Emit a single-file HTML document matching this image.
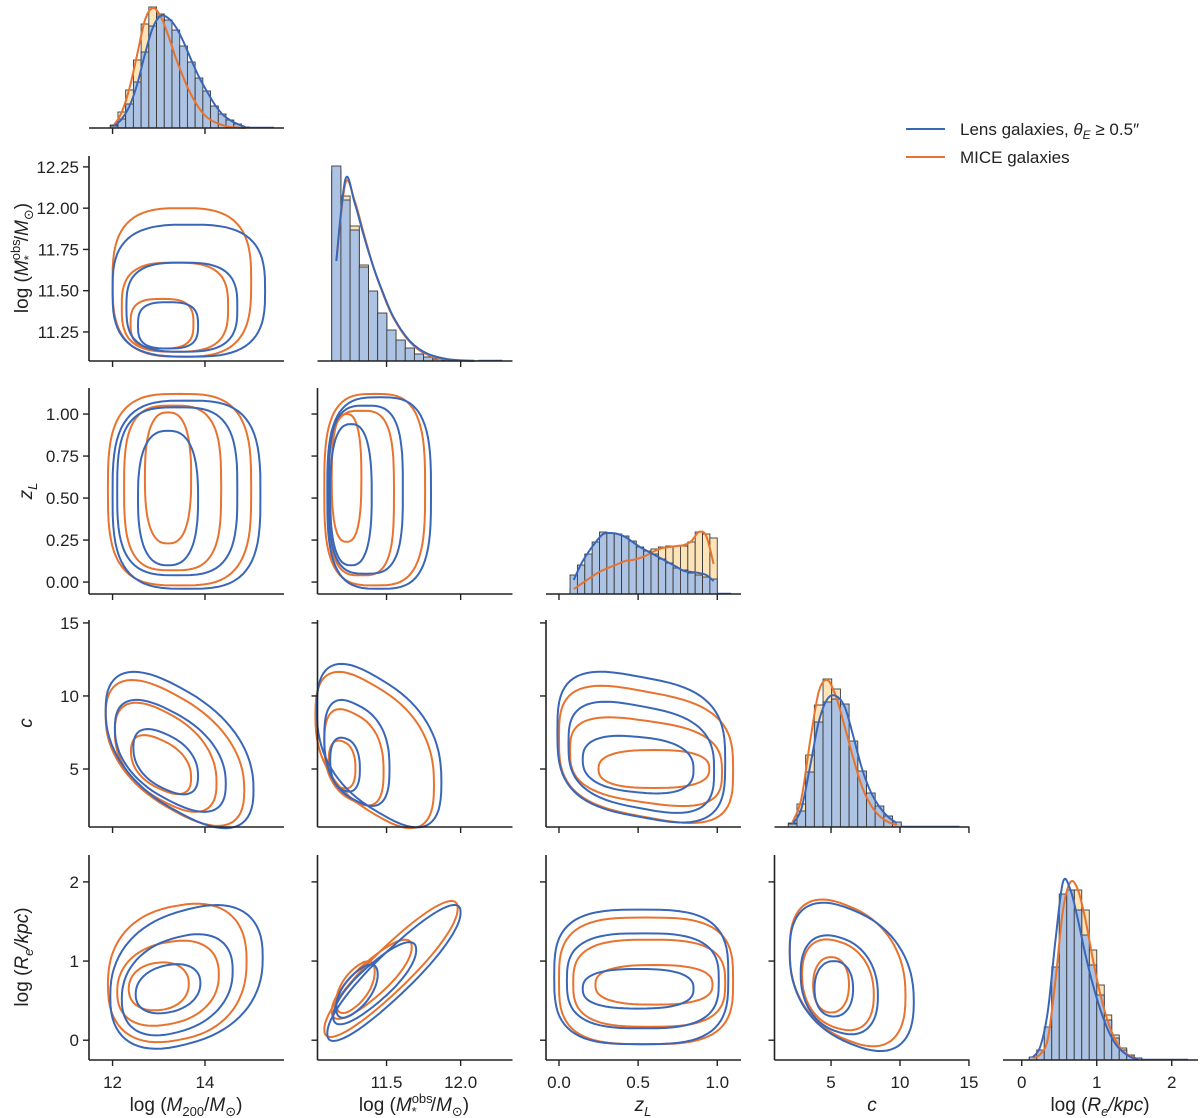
<!DOCTYPE html>
<html><head><meta charset="utf-8">
<style>
html,body{margin:0;padding:0;background:#fff;}
svg{display:block;font-family:"Liberation Sans","DejaVu Sans",sans-serif;}
</style></head>
<body>
<svg id="chart" width="1200" height="1118" viewBox="0 0 1200 1118" xmlns="http://www.w3.org/2000/svg"></svg>
<script>
// ---------- data ----------
const varNames = ["log_M200","log_Mstar","zL","c","log_Re"];
const xDomains = [[11.49,15.71],[11.034,12.35],[-0.082,1.15],[0.9,15.04],[-0.25,2.35]];
const yDomains = [[0,121],[11.074,12.316],[-0.071,1.155],[1.03,15.2],[-0.25,2.34]];
const xTicks = [[12,14],[11.5,12.0],[0,0.5,1.0],[5,10,15],[0,1,2]];
const xTickLabels = [["12","14"],["11.5","12.0"],["0.0","0.5","1.0"],["5","10","15"],["0","1","2"]];
const yTicks = [[],[11.25,11.5,11.75,12.0,12.25],[0,0.25,0.5,0.75,1.0],[5,10,15],[0,1,2]];
const yTickLabels = [[],["11.25","11.50","11.75","12.00","12.25"],["0.00","0.25","0.50","0.75","1.00"],["5","10","15"],["0","1","2"]];

// histograms (counts scaled); bin start and width per variable
const histStart = [11.95, 11.13, 0.07, 1.9, 0.1];
const histWidth = [0.167, 0.062, 0.0465, 0.63, 0.1];
const histLens = [
 [2,9,24,46,76,102,112,108,98,82,66,50,37,22,14,8,4,1],
 [195,161,131,94,70,48,31,21,13,7,4,2,1,0.5,0.3,0.2],
 [19,29,40,52,62,61,60,58,53,47,43,40,35,31,26,24,21,19,17,15],
 [3,16,55,105,125,128,123,86,56,34,21,11,5],
 [3,10,33,93,166,170,150,125,95,65,40,22,10,5,2]
];
const histMice = [
 [3,16,38,68,104,121,114,94,72,52,34,21,12,7,4,2,1,0],
 [190,165,135,96,68,46,30,20,12,7,4,2,1,0.5,0.2,0.1],
 [5,9,14,18,22,26,30,33,35,36,40,45,47,48,48,48,52,62,60,56],
 [4,23,72,122,148,138,110,75,45,27,15,7,3],
 [2,6,20,70,140,165,170,150,110,75,45,25,12,5,2]
];
// KDE curves (values at bin centres)
const kdeLens = [
 [2,9,22,44,74,100,112,110,101,86,68,51,37,24,14,8,4,1],
 [100,182,158,125,95,70,48,32,20,12,7,4,2,1,0.5,0.2],
 [14,30,42,52,60,61,60,57,52,47,43,39,35,31,27,23,22,21,19,13],
 [3,18,60,105,128,131,120,90,58,35,20,10,4],
 [3,14,50,120,178,170,140,105,75,50,30,16,8,3,1]
];
const kdeMice = [
 [3,16,40,74,108,120,112,93,70,50,33,20,11,6,3,1,0.5,0],
 [100,178,160,127,95,69,47,31,19,11,6,3,1.5,0.7,0.3,0.1],
 [5,10,15,20,24,27,30,33,34,36,39,43,46,47,48,49,53,62,58,30],
 [5,28,85,135,147,130,100,68,40,22,11,5,2],
 [2,6,22,80,150,178,170,140,100,65,38,20,9,4,1]
];

// contours per panel "row-col": [cx, cy, rx, ry, exponent, tilt]
const contoursLens = {
 "1-0": [[13.65,11.5,1.65,0.4,3,0],[13.5,11.4,1.2,0.27,3,0],[13.2,11.29,0.65,0.14,3,0]],
 "2-0": [[13.6,0.52,1.6,0.56,3.2,0],[13.4,0.54,1.3,0.5,3.2,0],[13.2,0.5,0.65,0.4,2.6,0]],
 "2-1": [[11.45,0.53,0.35,0.57,3.2,0],[11.36,0.55,0.25,0.5,3.2,0],[11.26,0.52,0.14,0.42,2.6,0]],
 "3-0": [[13.45,6.3,1.6,4.3,2.4,-1.7],[13.25,5.9,1.2,3.1,2.4,-1.6],[13.15,5.5,0.7,1.9,2.4,-1.4]],
 "3-1": [[11.45,6.6,0.42,4.6,2.6,-6],[11.3,6.1,0.22,3.3,2.6,-5],[11.22,5.3,0.1,1.8,2.4,-3]],
 "3-2": [[0.52,6.5,0.53,4.8,3.2,-2],[0.52,5.8,0.46,3.5,3,-2],[0.5,5.3,0.35,1.9,2.6,-1]],
 "4-0": [[13.6,0.8,1.65,0.85,2.4,0.15],[13.4,0.7,1.2,0.6,2.3,0.15],[13.2,0.65,0.7,0.3,2.2,0.1]],
 "4-1": [[11.55,0.85,0.45,0.35,2.2,1.7],[11.42,0.72,0.28,0.28,2.2,1.5],[11.3,0.62,0.14,0.25,2.2,1.5]],
 "4-2": [[0.52,0.8,0.55,0.85,3.2,0],[0.53,0.75,0.48,0.6,3,0],[0.5,0.65,0.35,0.25,2.6,0]],
 "4-3": [[6.5,0.8,4.5,0.85,2.4,-0.07],[5.6,0.7,2.8,0.6,2.3,-0.05],[5.2,0.65,1.4,0.35,2.2,0]]
};
const contoursMice = {
 "1-0": [[13.5,11.55,1.5,0.45,3,0],[13.35,11.4,1.15,0.27,3,0],[13.07,11.3,0.68,0.15,3,0]],
 "2-0": [[13.45,0.55,1.55,0.57,3.2,0],[13.3,0.56,1.05,0.49,3.2,0],[13.2,0.62,0.5,0.39,2.6,0]],
 "2-1": [[11.42,0.55,0.34,0.57,3.2,0],[11.33,0.53,0.22,0.49,3.2,0],[11.23,0.62,0.1,0.38,2.6,0]],
 "3-0": [[13.35,6.1,1.5,4.0,2.4,-1.7],[13.15,5.8,1.1,3.1,2.4,-1.6],[13.05,5.3,0.65,1.7,2.4,-1.4]],
 "3-1": [[11.42,6.3,0.4,4.4,2.6,-6],[11.28,5.8,0.2,3,2.6,-5],[11.2,5.3,0.09,1.6,2.4,-3]],
 "3-2": [[0.55,6.0,0.55,4.3,3.2,-2],[0.55,5.5,0.48,2.8,3,-1.5],[0.6,5.0,0.35,1.3,2.6,0]],
 "4-0": [[13.4,0.85,1.5,0.85,2.4,0.1],[13.2,0.72,1.1,0.52,2.3,0.1],[13.0,0.68,0.65,0.3,2.2,0.05]],
 "4-1": [[11.53,0.9,0.45,0.35,2.2,1.7],[11.4,0.77,0.27,0.27,2.2,1.5],[11.29,0.67,0.13,0.25,2.2,1.5]],
 "4-2": [[0.55,0.75,0.55,0.8,3.2,0],[0.57,0.72,0.48,0.55,3,0],[0.6,0.7,0.37,0.25,2.6,0]],
 "4-3": [[6.2,0.85,4.2,0.85,2.4,-0.07],[5.5,0.7,2.6,0.55,2.3,-0.05],[5.0,0.7,1.3,0.35,2.2,0]]
};

// ---------- layout ----------
const BLUE="#3a66b8", ORANGE="#e8732e";
const colLeft = c => 89 + 228.5*c;
const PW = 195;
const rowTop = [7,156,388,620,855];
const rowBot = [128,361,594,827,1060];
const NS="http://www.w3.org/2000/svg";
const svg=document.getElementById("chart");
function mk(tag, attrs, parent){
  const e=document.createElementNS(NS,tag);
  for(const k in attrs) e.setAttribute(k,attrs[k]);
  (parent||svg).appendChild(e); return e;
}
function xScale(c){const d=xDomains[c];return v=>colLeft(c)+(v-d[0])/(d[1]-d[0])*PW;}
function yScale(r){const d=yDomains[r];return v=>rowBot[r]-(v-d[0])/(d[1]-d[0])*(rowBot[r]-rowTop[r]);}
function histY(r){return v=>rowBot[r]-v;}
function smoothPath(pts){
  let d="M"+pts[0][0].toFixed(1)+","+pts[0][1].toFixed(1);
  for(let i=0;i<pts.length-1;i++){
    const p0=pts[Math.max(i-1,0)],p1=pts[i],p2=pts[i+1],p3=pts[Math.min(i+2,pts.length-1)];
    const c1=[p1[0]+(p2[0]-p0[0])/6,p1[1]+(p2[1]-p0[1])/6];
    const c2=[p2[0]-(p3[0]-p1[0])/6,p2[1]-(p3[1]-p1[1])/6];
    d+="C"+c1[0].toFixed(1)+","+c1[1].toFixed(1)+" "+c2[0].toFixed(1)+","+c2[1].toFixed(1)+" "+p2[0].toFixed(1)+","+p2[1].toFixed(1);
  }
  return d;
}
function contourPath(p, xs, ys){
  const [cx,cy,rx,ry,ex,k]=p; const pts=[];
  for(let i=0;i<72;i++){
    const t=i/72*2*Math.PI, ct=Math.cos(t), st=Math.sin(t);
    const u=Math.sign(ct)*Math.pow(Math.abs(ct),2/ex), v=Math.sign(st)*Math.pow(Math.abs(st),2/ex);
    const x=cx+rx*u, y=cy+ry*v+k*(rx*u);
    pts.push([xs(x),ys(y)]);
  }
  return "M"+pts.map(q=>q[0].toFixed(1)+","+q[1].toFixed(1)).join("L")+"Z";
}

for(let r=0;r<5;r++){
  for(let c=0;c<=r;c++){
    const g=mk("g",{});
    
    
    const xs=xScale(c), L=colLeft(c), B=rowBot[r], T=rowTop[r];
    if(r===c){
      const hy=histY(r);
      [[histMice[r],"#fde3b8","mice"],[histLens[r],"#adc3e3","lens"]].forEach(([arr,fill,nm])=>{
        arr.forEach((v,i)=>{
          const x0=xs(histStart[r]+i*histWidth[r]), x1=xs(histStart[r]+(i+1)*histWidth[r]);
          const b=mk("rect",{x:x0,y:hy(v),width:x1-x0,height:B-hy(v),fill:fill,stroke:"#3a3a3a","stroke-width":0.9},g);
          
          
        });
      });
      [[kdeMice[r],ORANGE,"mice"],[kdeLens[r],BLUE,"lens"]].forEach(([arr,col,nm])=>{
        const pts=arr.map((v,i)=>[xs(histStart[r]+(i+0.5)*histWidth[r]),hy(v)]);
        const p=mk("path",{d:smoothPath(pts),fill:"none",stroke:col,"stroke-width":2},g);
        
        
      });
      const tl=mk("line",{x1:xs(histStart[r]+histLens[r].length*histWidth[r]),x2:L+PW-10,y1:B-0.5,y2:B-0.5,stroke:BLUE,"stroke-width":1.5},g);
      
      
    } else {
      const ys=yScale(r), key=r+"-"+c;
      contoursMice[key].forEach(p=>{
        const e=mk("path",{d:contourPath(p,xs,ys),fill:"none",stroke:ORANGE,"stroke-width":2},g);
        
        
      });
      contoursLens[key].forEach(p=>{
        const e=mk("path",{d:contourPath(p,xs,ys),fill:"none",stroke:BLUE,"stroke-width":2},g);
        
        
      });
      const ls=mk("line",{x1:L,x2:L,y1:T,y2:B,stroke:"#222","stroke-width":1.6},g);
      
      
      yTicks[r].forEach((t,i)=>{
        const yy=ys(t);
        const tk=mk("line",{x1:L-6,x2:L,y1:yy,y2:yy,stroke:"#222","stroke-width":1.4},g);
        
        
        if(c===0){
          const tx=mk("text",{x:L-10,y:yy+6,"text-anchor":"end","font-size":17,fill:"#222"},g);
          tx.textContent=yTickLabels[r][i];
          
          
        }
      });
    }
    const bs=mk("line",{x1:L,x2:L+PW,y1:B,y2:B,stroke:"#222","stroke-width":1.6},g);
    
    
    xTicks[c].forEach((t,i)=>{
      const xx=xs(t);
      const tk=mk("line",{x1:xx,x2:xx,y1:B,y2:B+6,stroke:"#222","stroke-width":1.4},g);
      
      
      if(r===4){
        const tx=mk("text",{x:xx,y:B+28,"text-anchor":"middle","font-size":17,fill:"#222"},g);
        tx.textContent=xTickLabels[c][i];
        
        
      }
    });
  }
}
</script>
<svg style="position:absolute;left:0;top:0" width="1200" height="1118">
 <g font-family="Liberation Sans, DejaVu Sans, sans-serif" font-size="19" fill="#222" text-anchor="middle">
  <text x="186" y="1111">log (<tspan font-style="italic">M</tspan><tspan font-size="13" dy="5">200</tspan><tspan dy="-5">/</tspan><tspan font-style="italic">M</tspan><tspan font-size="13" dy="5">⊙</tspan><tspan dy="-5">)</tspan></text>
  <text x="414" y="1111">log (<tspan font-style="italic">M</tspan><tspan font-size="13" dy="-8">obs</tspan><tspan font-size="13" dx="-21" dy="13">*</tspan><tspan dx="14" dy="-5">/</tspan><tspan font-style="italic">M</tspan><tspan font-size="13" dy="5">⊙</tspan><tspan dy="-5">)</tspan></text>
  <text x="643" y="1111" font-style="italic">z<tspan font-size="13" dy="5">L</tspan></text>
  <text x="872" y="1111" font-style="italic">c</text>
  <text x="1100" y="1111">log (<tspan font-style="italic">R</tspan><tspan font-size="13" font-style="italic" dy="5">e</tspan><tspan dy="-5" font-style="italic">/kpc</tspan>)</text>
  <text transform="translate(28,258) rotate(-90)">log (<tspan font-style="italic">M</tspan><tspan font-size="13" dy="-8">obs</tspan><tspan font-size="13" dx="-21" dy="13">*</tspan><tspan dx="14" dy="-5">/</tspan><tspan font-style="italic">M</tspan><tspan font-size="13" dy="5">⊙</tspan><tspan dy="-5">)</tspan></text>
  <text transform="translate(32,491) rotate(-90)" font-style="italic">z<tspan font-size="13" dy="5">L</tspan></text>
  <text transform="translate(32,723) rotate(-90)" font-style="italic">c</text>
  <text transform="translate(28,957) rotate(-90)">log (<tspan font-style="italic">R</tspan><tspan font-size="13" font-style="italic" dy="5">e</tspan><tspan dy="-5" font-style="italic">/kpc</tspan>)</text>
 </g>
 <g font-family="Liberation Sans, DejaVu Sans, sans-serif" font-size="17" fill="#222">
  <line x1="906" x2="945" y1="129" y2="129" stroke="#3a66b8" stroke-width="2"/>
  <text x="960" y="135">Lens galaxies, <tspan font-style="italic">θ</tspan><tspan font-size="12" font-style="italic" dy="4">E</tspan><tspan dy="-4"> ≥ 0.5″</tspan></text>
  <line x1="906" x2="945" y1="157" y2="157" stroke="#e8732e" stroke-width="2"/>
  <text x="960" y="163">MICE galaxies</text>
 </g>
</svg>
</body></html>
